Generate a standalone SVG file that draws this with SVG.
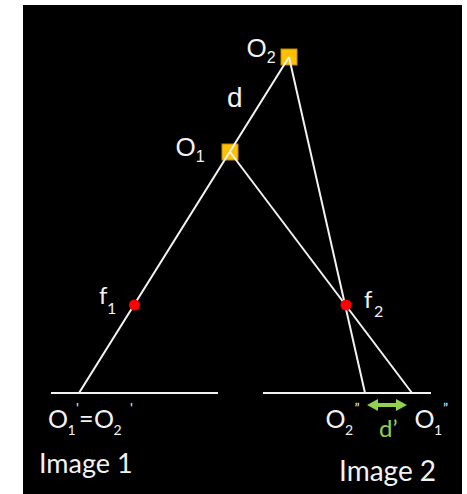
<svg xmlns="http://www.w3.org/2000/svg" width="467" height="494" viewBox="0 0 467 494">
<defs>
<style>
.ln{stroke:#f2f2f2;stroke-width:2;fill:none}
.lbl{font-family:"Liberation Sans",Arial,sans-serif;font-size:26px;fill:#f2f2f2}
.cal{font-family:Lato,"Open Sans",sans-serif;font-size:25px;fill:#f2f2f2}
.sub{font-size:16px}
.sub2{font-size:14px}
.pr{font-size:14px}
.sq{fill:#ffc000;stroke:#c08a00;stroke-width:1}
.dot{fill:#ff0000}
.grn{fill:#92d050}
</style>
</defs>
<rect x="23" y="5" width="439" height="489" fill="#000"/>
<g id="baselines">
<line class="ln" x1="51" y1="393" x2="218" y2="393"/>
<line class="ln" x1="263" y1="393" x2="431" y2="393"/>
</g>
<g id="O2"><rect class="sq" x="281" y="49" width="16" height="16"/>
<text class="lbl" x="246.5" y="57">O<tspan class="sub" x="266.8" y="63">2</tspan></text></g>
<g id="O1"><rect class="sq" x="222" y="144" width="16" height="16"/>
<text class="lbl" x="175.5" y="156">O<tspan class="sub" x="195.8" y="162">1</tspan></text></g>
<g id="connectors">
<line class="ln" x1="289" y1="57" x2="79" y2="393"/>
<line class="ln" x1="230" y1="152" x2="412" y2="393"/>
<line class="ln" x1="289" y1="57" x2="365" y2="393"/>
<path class="grn" d="M367,405 L378,399 L378,403 L396,403 L396,399 L407,405 L396,411 L396,407 L378,407 L378,411 Z"/>
</g>
<g id="f1"><circle class="dot" cx="134.5" cy="305" r="5.5"/>
<text class="cal" x="99" y="304" style="font-size:24px">f<tspan class="sub" x="107" y="314">1</tspan></text></g>
<g id="f2"><circle class="dot" cx="346" cy="305" r="5.5"/>
<text class="cal" x="364" y="308" style="font-size:24px">f<tspan class="sub" x="374" y="317">2</tspan></text></g>
<g id="d"><text class="lbl" x="227" y="107" style="font-size:28px">d</text></g>
<g id="Oprime"><text class="cal" x="48" y="428">O<tspan class="sub2" x="67.5" y="435">1</tspan><tspan class="pr" x="76" y="413">'</tspan><tspan x="79" y="428">=</tspan><tspan x="94" y="428">O</tspan><tspan class="sub2" x="113.5" y="435">2</tspan><tspan class="pr" x="130" y="413">'</tspan></text></g>
<g id="O2dd"><text class="cal" x="325.5" y="428">O<tspan class="sub2" x="345" y="435">2</tspan><tspan class="pr" x="354.5" y="413">”</tspan></text></g>
<g id="O1dd"><text class="cal" x="414.5" y="428">O<tspan class="sub2" x="434" y="435">1</tspan><tspan class="pr" x="443" y="413">”</tspan></text></g>
<g id="dprime"><text class="cal grn" x="379" y="437" style="font-size:24px">d’</text></g>
<g id="img1"><text class="cal" x="39" y="473" style="font-size:27px">Image 1</text></g>
<g id="img2"><text class="cal" x="339" y="481" style="font-size:28px">Image 2</text></g>
</svg>
